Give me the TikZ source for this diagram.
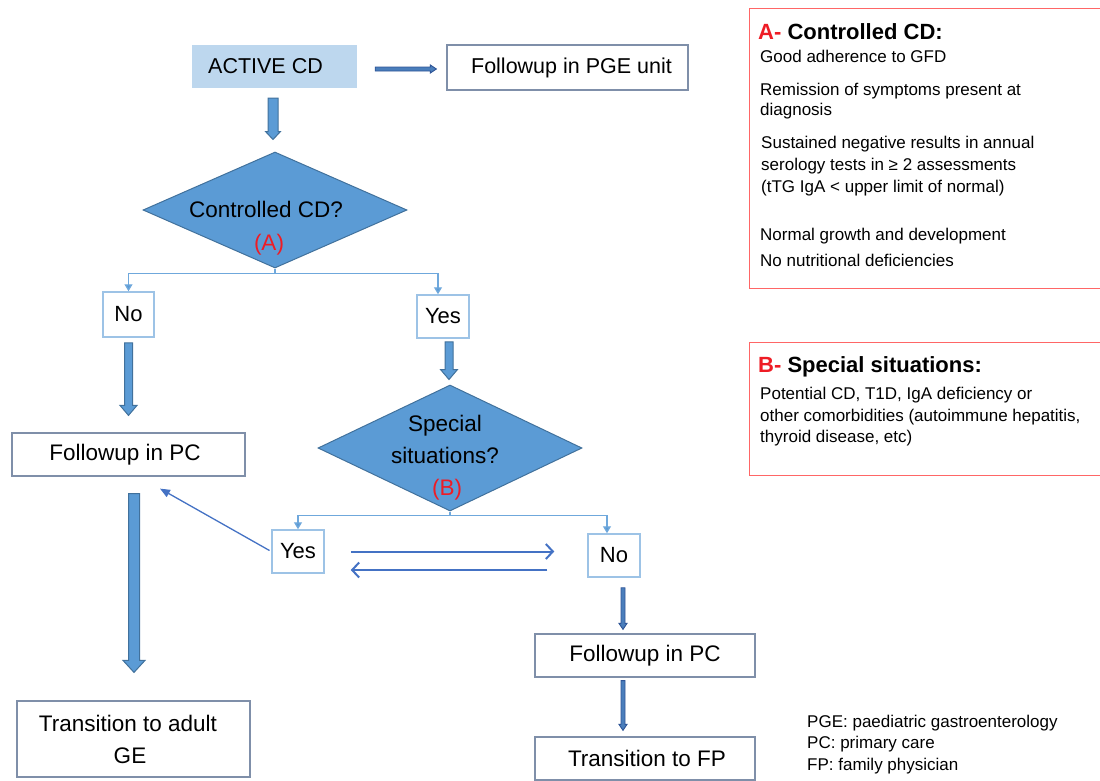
\documentclass[tikz,border=0pt]{standalone}
\usepackage{fontspec}
\setmainfont{Liberation Sans}
\usetikzlibrary{shapes.geometric,arrows.meta,calc}
\definecolor{actfill}{HTML}{BDD7EE}
\definecolor{boxline}{HTML}{7F8FA9}
\definecolor{ynline}{HTML}{9DC3E6}
\definecolor{diafill}{HTML}{5B9BD5}
\definecolor{diadraw}{HTML}{41719C}
\definecolor{brline}{HTML}{6FA8DC}
\definecolor{arrdraw}{HTML}{2F5597}
\definecolor{thinfill}{HTML}{4A7EBB}
\definecolor{pairblue}{HTML}{4472C4}
\definecolor{hred}{HTML}{EE1C25}
\definecolor{redline}{HTML}{FF6666}
\newcommand\vblock[6]{%
  \draw[#6] let \p1=#1, \p2=#2 in
    (\x1-#3,\y1) -- (\x1-#3,\y2+#5) -- (\x1-#4,\y2+#5) -- (\x1,\y2) --
    (\x1+#4,\y2+#5) -- (\x1+#3,\y2+#5) -- (\x1+#3,\y1) -- cycle;}
\newcommand\hblock[6]{%
  \draw[#6] let \p1=#1, \p2=#2 in
    (\x1,\y1-#3) -- (\x2-#5,\y1-#3) -- (\x2-#5,\y1-#4) -- (\x2,\y1) --
    (\x2-#5,\y1+#4) -- (\x2-#5,\y1+#3) -- (\x1,\y1+#3) -- cycle;}
\begin{document}
\begin{tikzpicture}[x=1pt,y=-1pt,
  mainfont/.style={font=\fontsize{22.5}{32}\selectfont},
  topfont/.style={font=\fontsize{21.5}{32}\selectfont},
  smallfont/.style={font=\fontsize{17}{21}\selectfont},
  actbox/.style={rectangle, fill=actfill, topfont, inner sep=0pt},
  whitebox/.style={rectangle, draw=boxline, line width=1.2pt, fill=white, mainfont, inner sep=0pt},
  ynbox/.style={rectangle, draw=ynline, line width=1.5pt, fill=white, font=\fontsize{22}{32}\selectfont, inner sep=0pt},
  dia/.style={diamond, draw=diadraw, line width=1pt, fill=diafill, inner sep=0pt},
  diatext/.style={mainfont, anchor=base, inner sep=0pt},
  blockarrow/.style={fill=diafill, draw=diadraw, line width=1pt, line join=miter},
  thinblock/.style={fill=thinfill, draw=arrdraw, line width=0.9pt, line join=miter},
  branch/.style={draw=brline, line width=1.3pt, -{Triangle[width=8pt,length=7pt,fill=diafill]}},
  ptr/.style={draw=pairblue, line width=1.3pt, -{Triangle[width=8pt,length=10pt]}},
  pair/.style={draw=pairblue, line width=2pt, -{Straight Barb[width=15pt,length=7pt]}},
  redbox/.style={rectangle, draw=redline, line width=1.3pt, inner sep=0pt},
  item/.style={smallfont, anchor=base west, inner sep=0pt},
  headtext/.style={font=\bfseries\fontsize{22}{26}\selectfont, anchor=base west, inner sep=0pt}
]
\useasboundingbox (0,0) rectangle (1100,780);

% flow nodes
\node[actbox, minimum width=165, minimum height=43] (active) at (274.5,66.5) {ACTIVE CD\kern18pt};
\node[whitebox, topfont, minimum width=241, minimum height=45] (pge) at (567.5,67.5) {\kern8pt Followup in PGE unit};
\node[dia, minimum width=264, minimum height=116] (d1) at (275,210) {};
\node[diatext] (d1t) at ($(d1.center)+(-9,7)$) {Controlled CD?};
\node[diatext, text=hred] (d1a) at ($(d1.center)+(-6,40)$) {(A)};
\node[ynbox, minimum width=51, minimum height=45] (no1) at (128.5,314.5) {No};
\node[ynbox, minimum width=52, minimum height=43] (yes1) at (443,316.5) {Yes};
\node[whitebox, minimum width=233, minimum height=43] (pcl) at (128.5,454.5) {Followup in PC\kern7pt};
\node[dia, minimum width=264, minimum height=126] (d2) at (450,448) {};
\node[diatext] (d2t1) at ($(d2.center)+(-5,-17)$) {Special};
\node[diatext] (d2t2) at ($(d2.center)+(-5,15)$) {situations?};
\node[diatext, text=hred] (d2b) at ($(d2.center)+(-3,47)$) {(B)};
\node[ynbox, minimum width=52, minimum height=43] (yes2) at (298,551.5) {Yes};
\node[ynbox, minimum width=52, minimum height=43] (no2) at (614,555.5) {No};
\node[whitebox, minimum width=220, minimum height=43] (pcr) at (645,655.5) {Followup in PC};
\node[whitebox, minimum width=220, minimum height=43] (fp) at (645,758.5) {\kern4pt Transition to FP};
\node[whitebox, minimum width=233, minimum height=76, align=center] (adult) at (133.5,739) {Transition to adult\kern11pt\\GE\kern7pt};

% block arrows
\hblock{($(active.east)+(18,2.5)$)}{($(pge.west)+(-10,1.5)$)}{2pt}{4pt}{6pt}{thinblock}
\vblock{($(active.south)+(-1.5,10)$)}{($(d1.north)+(-2,-12)$)}{5pt}{7.5pt}{8pt}{blockarrow}
\vblock{($(no1.south)+(0,5)$)}{($(pcl.north)+(0,-17)$)}{4pt}{8.5pt}{10pt}{blockarrow}
\vblock{($(yes1.south)+(6,3)$)}{($(d2.north)+(0,-5)$)}{4pt}{8.5pt}{10pt}{blockarrow}
\vblock{($(pcl.south)+(5.5,17)$)}{($(adult.north)+(0,-28)$)}{5.5pt}{11pt}{12pt}{blockarrow}
\vblock{($(no2.south)+(9,10)$)}{($(pcr.north)+(0,-4)$)}{2pt}{4pt}{6pt}{thinblock}
\vblock{($(pcr.south)+(-22,3)$)}{($(fp.north)+(0,-6)$)}{2pt}{4pt}{6pt}{thinblock}

% branch lines
\draw[branch] (d1.south) -- ++(0,5) coordinate (b1) -| (no1.north);
\draw[branch] (b1) -| ($(yes1.north)+(-5,0)$);
\draw[branch] (d2.south) -- ++(0,4) coordinate (b2) -| (yes2.north);
\draw[branch] (b2) -| ($(no2.north)+(-7,0)$);

% other connectors
\draw[ptr, shorten <=2pt] (yes2.west) -- ($(pcl.south)+(31.5,12)$);
\draw[pair, shorten <=26pt, shorten >=33pt] (yes2.east) -- (yes2.east -| no2.west);
\draw[pair, shorten <=40pt, shorten >=26pt] ($(no2.west)+(0,14.5)$) -- ($(yes2.east)+(0,18.5)$);

% red boxes
\node[redbox, minimum width=354, minimum height=280, anchor=north west] (boxA) at (749,8) {};
\node[redbox, minimum width=354, minimum height=133, anchor=north west] (boxB) at (749,342) {};

\node[headtext] (ha) at (758,39) {\textcolor{hred}{A-} Controlled CD:};
\node[item] (a1) at (760,62) {Good adherence to GFD};
\node[item] (a2) at (760,95) {Remission of symptoms present at};
\node[item] (a3) at (760,115) {diagnosis};
\node[item] (a4) at (761,148) {Sustained negative results in annual};
\node[item] (a5) at (761,170) {serology tests in ≥ 2 assessments};
\node[item] (a6) at (761,192) {(tTG IgA < upper limit of normal)};
\node[item] (a7) at (760,240) {Normal growth and development};
\node[item] (a8) at (760,266) {No nutritional deficiencies};

\node[headtext] (hb) at (758,372) {\textcolor{hred}{B-} Special situations:};
\node[item] (b1t) at (760,399) {Potential CD, T1D, IgA deficiency or};
\node[item] (b2t) at (760,421) {other comorbidities (autoimmune hepatitis,};
\node[item] (b3t) at (760,442) {thyroid disease, etc)};

% legend
\node[item] (l1) at (807,727) {PGE: paediatric gastroenterology};
\node[item] (l2) at (807,748) {PC: primary care};
\node[item] (l3) at (807,770) {FP: family physician};
\end{tikzpicture}
\end{document}
